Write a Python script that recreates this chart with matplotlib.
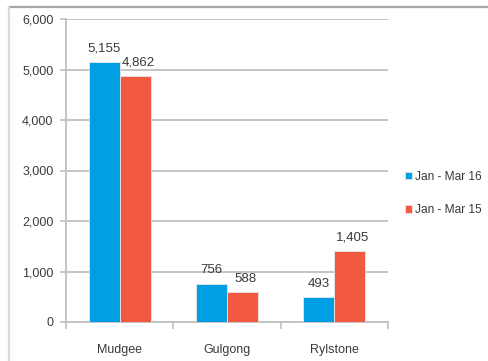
import matplotlib
matplotlib.use("Agg")
import matplotlib.pyplot as plt
from matplotlib.lines import Line2D
import numpy as np

categories = ["Mudgee", "Gulgong", "Rylstone"]
series_names = ["Jan - Mar 16", "Jan - Mar 15"]
jan_mar_16 = [5155, 756, 493]
jan_mar_15 = [4862, 588, 1405]
yticks = [0, 1000, 2000, 3000, 4000, 5000, 6000]

colors = ["#009fe3", "#f15a40"]
plt.rcParams['font.family'] = ['Liberation Sans', 'DejaVu Sans']
txt = "#3a3a3a"

W, H = 489, 361
fig = plt.figure(figsize=(W/100, H/100), dpi=100)
ax = fig.add_axes([66/W, 1-322/H, (388-66)/W, (322-19)/H])

x = np.arange(len(categories))
bw = 0.29
for i, (vals, c, name) in enumerate(zip([jan_mar_16, jan_mar_15], colors, series_names)):
    off = (i - 0.5) * bw
    bars = ax.bar(x + off, vals, bw, color=c, edgecolor="#e8e8e8", linewidth=0.6, label=name, zorder=3)
    for b, v in zip(bars, vals):
        ax.text(b.get_x() + b.get_width()/2 + (3/107 if i == 1 else 0), v + 150, f"{v:,}",
                ha="center", va="bottom", fontsize=9.5, color=txt)

ax.set_xlim(-0.5, len(categories) - 0.5)
ax.set_ylim(0, 6000)
ax.set_yticks(yticks)
ax.set_yticklabels([f"{v:,}" for v in yticks], fontsize=9, color=txt)
ax.set_xticks(x)
ax.set_xticklabels(categories, fontsize=9, color=txt)
ax.set_xticks(np.arange(-0.5, len(categories)), minor=True)
ax.tick_params(axis="x", which="major", length=0, pad=16)
ax.tick_params(axis="x", which="minor", length=5, color="#bfbfbf", width=1.2)
ax.tick_params(axis="y", length=4, color="#bfbfbf", width=1.2, pad=5)
ax.grid(axis="y", color="#bfbfbf", linewidth=1.3, zorder=0)
for s in ["top", "right"]:
    ax.spines[s].set_visible(False)
for s in ["left", "bottom"]:
    ax.spines[s].set_color("#bfbfbf")
    ax.spines[s].set_linewidth(1.3)

leg = fig.legend(loc="upper left", bbox_to_anchor=(394/W, 1-160/H), frameon=False,
                 fontsize=8.6, handlelength=0.6, handleheight=0.6, handletextpad=0.25,
                 labelspacing=1.8, labelcolor=txt)

fig.add_artist(Line2D([9/W, 1], [1-7/H, 1-7/H], color="#a6a6a6", linewidth=1.6, transform=fig.transFigure))
fig.add_artist(Line2D([9/W, 9/W], [0, 1-7/H], color="#d9d9d9", linewidth=1.6, transform=fig.transFigure))

fig.savefig("out.png", dpi=100)
